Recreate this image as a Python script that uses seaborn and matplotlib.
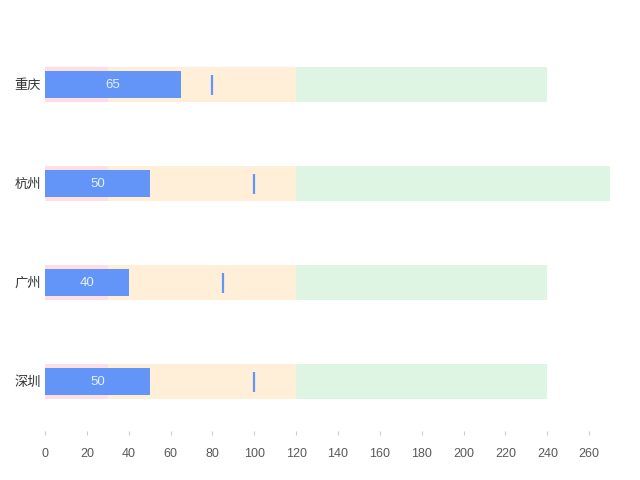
import pandas as pd
import matplotlib.pyplot as plt
import seaborn as sns

# data
cities = ["重庆", "杭州", "广州", "深圳"]
measures = [65, 50, 40, 50]
targets = [80, 100, 85, 100]
range_low = [30, 30, 30, 30]
range_mid = [120, 120, 120, 120]
range_high = [240, 270, 240, 240]

BAR_COLOR = "#6395f9"

sns.set_style("white")
plt.rcParams["font.family"] = ["Liberation Sans", "Noto Sans CJK SC", "DejaVu Sans"]

df = pd.DataFrame({
    "city": cities,
    "measure": measures,
    "target": targets,
    "low": range_low,
    "mid": range_mid,
    "high": range_high,
})

fig = plt.figure(figsize=(6.4, 4.8), dpi=100)
ax = fig.add_axes([0.0703, 0.102, 0.883, 0.825])

# ranges: biggest first so smaller ones sit on top
sns.barplot(data=df, x="high", y="city", orient="h", color="#dff5e3",
            width=0.35, saturation=1, linewidth=0, ax=ax)
sns.barplot(data=df, x="mid", y="city", orient="h", color="#ffeed8",
            width=0.35, saturation=1, linewidth=0, ax=ax)
sns.barplot(data=df, x="low", y="city", orient="h", color="#ffdfe3",
            width=0.35, saturation=1, linewidth=0, ax=ax)
# measure bar
sns.barplot(data=df, x="measure", y="city", orient="h", color=BAR_COLOR,
            width=0.28, saturation=1, linewidth=0, ax=ax)
# target marker
sns.scatterplot(data=df, x="target", y="city", marker="|", s=200,
                color=BAR_COLOR, linewidth=1.6, ax=ax, zorder=5)

for i, m in enumerate(measures):
    ax.text(m / 2, i, str(m), ha="center", va="center",
            color="white", alpha=0.85, fontsize=9.5)

ax.set_xlim(0, 270)
ax.set_ylim(3.5, -0.5)
ax.set_xticks(range(0, 261, 20))
ax.set_xlabel("")
ax.set_ylabel("")
sns.despine(ax=ax, left=True, bottom=True)
ax.tick_params(axis="x", bottom=True, length=3, width=0.8, color="#cccccc",
               labelcolor="#595959", labelsize=9, pad=9, direction="out")
ax.tick_params(axis="y", left=False, length=0, labelcolor="#333333",
               labelsize=9.5, pad=3)

fig.savefig("out.png", dpi=100)
